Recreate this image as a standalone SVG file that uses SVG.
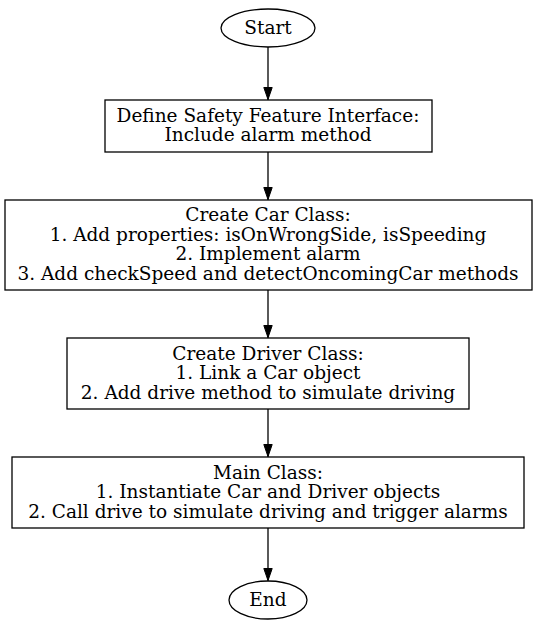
<svg xmlns="http://www.w3.org/2000/svg" width="537" height="629" viewBox="0 0 537 629">
<style>
.n{fill:#fff;stroke:#000;stroke-width:1.3}
.t{font-family:"DejaVu Serif",serif;font-size:18.5px;text-anchor:middle;fill:#000}
.e{stroke:#000;stroke-width:1.3;fill:none}
</style>
<defs>
<marker id="a" viewBox="0 0 13 9.4" refX="13" refY="4.7" markerWidth="13" markerHeight="9.4" markerUnits="userSpaceOnUse" orient="auto">
<path d="M0.5,0.5L12.5,4.7L0.5,8.9Z" fill="#000" stroke="#000" stroke-width="1"/>
</marker>
</defs>
<rect width="537" height="629" fill="#fff"/>
<g id="edges">
<line class="e" x1="268" y1="47" x2="268" y2="100" marker-end="url(#a)"/>
<line class="e" x1="268" y1="152" x2="268" y2="200" marker-end="url(#a)"/>
<line class="e" x1="268" y1="290" x2="268" y2="338" marker-end="url(#a)"/>
<line class="e" x1="268" y1="409" x2="268" y2="457" marker-end="url(#a)"/>
<line class="e" x1="268" y1="528" x2="268" y2="581" marker-end="url(#a)"/>
</g>
<g id="start">
<ellipse class="n" cx="268" cy="28" rx="47" ry="19"/>
<text class="t" x="268" y="34">Start</text>
</g>
<g id="iface">
<rect class="n" x="105" y="100" width="327" height="52"/>
<text class="t" x="268" y="122">Define Safety Feature Interface:</text>
<text class="t" x="268" y="141">Include alarm method</text>
</g>
<g id="car">
<rect class="n" x="5" y="200" width="527" height="90"/>
<text class="t" x="268" y="221">Create Car Class:</text>
<text class="t" x="268" y="240.5">1. Add properties: isOnWrongSide, isSpeeding</text>
<text class="t" x="268" y="260">2. Implement alarm</text>
<text class="t" x="268" y="279.5">3. Add checkSpeed and detectOncomingCar methods</text>
</g>
<g id="driver">
<rect class="n" x="67" y="338" width="402" height="71"/>
<text class="t" x="268" y="359.5">Create Driver Class:</text>
<text class="t" x="268" y="379">1. Link a Car object</text>
<text class="t" x="268" y="398.5">2. Add drive method to simulate driving</text>
</g>
<g id="main">
<rect class="n" x="12" y="457" width="512" height="71"/>
<text class="t" x="268" y="478.5">Main Class:</text>
<text class="t" x="268" y="498">1. Instantiate Car and Driver objects</text>
<text class="t" x="268" y="517.5">2. Call drive to simulate driving and trigger alarms</text>
</g>
<g id="end">
<ellipse class="n" cx="268" cy="600" rx="39" ry="19"/>
<text class="t" x="268" y="606">End</text>
</g>
</svg>
